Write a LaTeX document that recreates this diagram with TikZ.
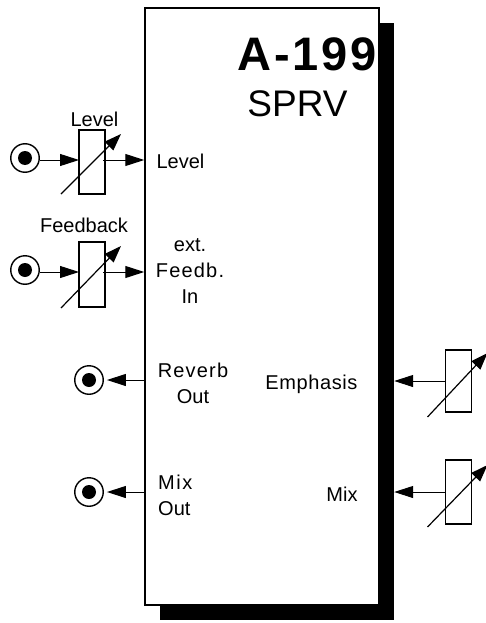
\documentclass[tikz,border=0pt]{standalone}
\usepackage{fontspec}
\setmainfont{Liberation Sans}
\usetikzlibrary{arrows.meta}
\newcommand{\wide}[2]{{\addfontfeature{LetterSpace=#1}#2}}
\tikzset{
  jack/.style={draw,circle,line width=1.4pt,minimum size=28.5pt,inner sep=0pt},
  pot/.style={draw,line width=1.3pt,minimum width=26pt,inner sep=0pt},
  sig/.style={line width=1pt,-{Triangle[length=19pt,width=12pt]}},
  knob/.style={line width=1.2pt,-{Triangle[length=17pt,width=12pt]}},
  lab/.style={font=\fontsize{20}{26}\selectfont,align=center,inner sep=0pt},
}
\begin{document}
\begin{tikzpicture}[x=1pt,y=-1pt]
    \useasboundingbox (0,0) rectangle (486,623);
    \node[fill=black,minimum width=234pt,minimum height=597pt,inner sep=0pt] (shadow) at (277,321.5) {};
    \node[draw,fill=white,line width=1.5pt,minimum width=234pt,minimum height=597pt,inner sep=0pt] (panel) at (262,306.5) {};
    \node[inner sep=0pt,font=\fontsize{47}{47}\selectfont\bfseries\addfontfeature{LetterSpace=5.9}] (title) at (307,54) {A-199};
    \node[inner sep=0pt,font=\fontsize{37}{37}\selectfont] (name) at (297.5,104) {SPRV};
    % pots
    \node[pot,minimum height=64pt] (potl) at (92,162) {};
    \node[pot,minimum height=65pt] (potf) at (92,274.5) {};
    \node[pot,minimum height=62pt] (pote) at (458.5,381) {};
    \node[pot,minimum height=64pt] (potm) at (458.5,492) {};
    \foreach \p/\s/\e in {potl/32/28,potf/33.5/28.5,pote/36/28,potm/35/27}
        \draw[knob] ([shift={(-31,\s)}]\p.center) -- ([shift={(29,-\e)}]\p.center);
    % jacks
    \foreach \n/\xx/\yy in {jackl/25/158,jackf/25/270,jackr/89/380,jackm/89/492}{
        \node[jack] (\n) at (\xx,\yy) {};
        \fill (\n.center) circle (7);
    }
    \coordinate (lin) at (79,160);
    \coordinate (lout) at (103,160);
    \coordinate (fin) at (79,272);
    \coordinate (fout) at (103,272);
    \draw[sig] (jackl.east |- lin) -- (lin);
    \draw[sig] (lout) -- (panel.west |- lout);
    \draw[sig] (jackf.east |- fin) -- (fin);
    \draw[sig] (fout) -- (panel.west |- fout);
    \draw[sig,shorten >=3pt] (panel.west |- jackr) -- (jackr.east);
    \draw[sig,shorten >=3pt] (panel.west |- jackm) -- (jackm.east);
    \draw[sig] (pote.west) -- (shadow.east |- pote);
    \draw[sig] (potm.west) -- (shadow.east |- potm);
    % labels
    \node[lab] (tl) at (94.5,119) {Level};
    \node[lab] (tf) at (84,225) {Feedback};
    \node[lab] (il) at (180.5,161.5) {Level};
    \node[lab] (if) at (190,271) {ext.\\\wide{6}{Feedb.}\\In};
    \node[lab] (or) at (193,383) {\wide{6}{Reverb}\\Out};
    \node[lab,align=left,anchor=west] (om) at (158,495) {\wide{8}{Mix}\\Out};
    \node[lab] (ce) at (311.5,384) {\wide{3}{Emphasis}};
    \node[lab] (cm) at (342,494) {Mix};
\end{tikzpicture}
\end{document}
